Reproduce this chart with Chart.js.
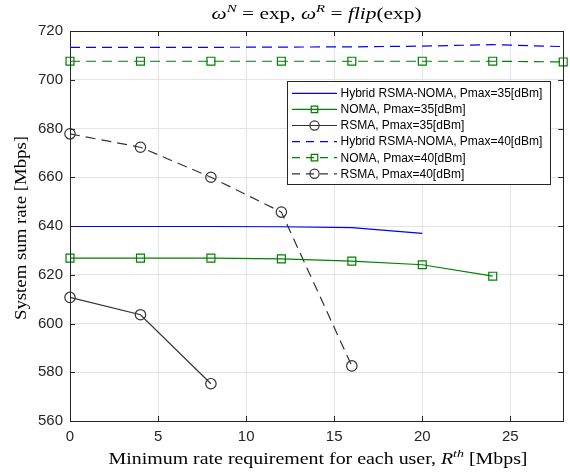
<!DOCTYPE html>
<html>
<head>
<meta charset="utf-8">
<script src="https://cdn.jsdelivr.net/npm/chart.js@4.4.0/dist/chart.umd.min.js"></script>
<style>body{margin:0;background:#fff}</style>
</head>
<body>
<canvas id="c" width="570" height="475"></canvas>
<script>
// x positions (minimum rate requirement, Mbps)
const xHybrid35 = [0, 4, 8, 12, 16, 20];
const xNoma35 = [0, 4, 8, 12, 16, 20, 24];
const xRsma35 = [0, 4, 8];
const xHybrid40 = [0, 4, 8, 12, 16, 20, 24, 28];
const xNoma40 = [0, 4, 8, 12, 16, 20, 24, 28];
const xRsma40 = [0, 4, 8, 12, 16];

// system sum rate (Mbps)
const hybrid35 = [639.8, 639.8, 639.8, 639.7, 639.3, 637.0];
const noma35 = [626.8, 626.8, 626.8, 626.5, 625.6, 624.1, 619.4];
const rsma35 = [610.7, 603.6, 575.3];
const hybrid40 = [713.3, 713.3, 713.3, 713.4, 713.5, 713.8, 714.4, 713.6];
const noma40 = [707.6, 707.6, 707.6, 707.6, 707.6, 707.6, 707.6, 707.3];
const rsma40 = [677.8, 672.3, 660.0, 645.7, 582.6];

const seriesNames = [
    'Hybrid RSMA-NOMA, Pmax=35[dBm]',
    'NOMA, Pmax=35[dBm]',
    'RSMA, Pmax=35[dBm]',
    'Hybrid RSMA-NOMA, Pmax=40[dBm]',
    'NOMA, Pmax=40[dBm]',
    'RSMA, Pmax=40[dBm]'
];
const xTicks = [0, 5, 10, 15, 20, 25];

const BLUE = '#0000ff';
const GREEN = '#008000';
const BLACK = '#333333';
const AXIS = '#262626';
const SERIF = '"Liberation Serif", "Times New Roman", serif';
const SANS = '"Liberation Sans", Arial, sans-serif';

function pts(xs, ys) {
    return xs.map((x, i) => ({x: x, y: ys[i]}));
}

function ds(label, xs, ys, color, marker, dashed) {
    return {
        label: label,
        data: pts(xs, ys),
        borderColor: color,
        backgroundColor: color,
        borderWidth: 1.2,
        borderDash: dashed ? [10, 6] : [],
        pointStyle: marker || 'circle',
        pointRadius: marker ? (marker === 'rect' ? 5.6 : 5.2) : 0,
        pointBorderColor: color,
        pointBackgroundColor: 'rgba(0,0,0,0)',
        pointBorderWidth: 1.2,
        tension: 0,
        clip: false
    };
}

const datasets = [
    ds(seriesNames[0], xHybrid35, hybrid35, BLUE, null, false),
    ds(seriesNames[1], xNoma35, noma35, GREEN, 'rect', false),
    ds(seriesNames[2], xRsma35, rsma35, BLACK, 'circle', false),
    ds(seriesNames[3], xHybrid40, hybrid40, BLUE, null, true),
    ds(seriesNames[4], xNoma40, noma40, GREEN, 'rect', true),
    ds(seriesNames[5], xRsma40, rsma40, BLACK, 'circle', true)
];

// text with italic / superscript pieces: [text, italic, sup]
function richWidth(ctx, parts, size) {
    let w = 0;
    parts.forEach(p => {
        const s = p[2] ? size * 0.7 : size;
        ctx.font = (p[1] ? 'italic ' : '') + s + 'px ' + SERIF;
        w += ctx.measureText(p[0]).width;
    });
    return w;
}
// the reference uses a wide LaTeX font, so stretch to its measured width
function drawRich(ctx, parts, cx, cy, size, angle, targetW) {
    ctx.save();
    ctx.translate(cx, cy);
    if (angle) ctx.rotate(angle);
    const w = richWidth(ctx, parts, size);
    if (targetW) ctx.scale(targetW / w, 1);
    ctx.fillStyle = '#000';
    ctx.textBaseline = 'middle';
    ctx.textAlign = 'left';
    let x = -w / 2;
    parts.forEach(p => {
        const s = p[2] ? size * 0.7 : size;
        ctx.font = (p[1] ? 'italic ' : '') + s + 'px ' + SERIF;
        ctx.fillText(p[0], x, p[2] ? -size * 0.38 : 0);
        x += ctx.measureText(p[0]).width;
    });
    ctx.restore();
}

const framePlugin = {
    id: 'frame',
    afterDatasetsDraw(chart) {
        const ctx = chart.ctx;
        const a = chart.chartArea;
        const xs = chart.scales.x, ys = chart.scales.y;
        ctx.save();
        ctx.strokeStyle = AXIS;
        ctx.lineWidth = 1;
        ctx.strokeRect(Math.round(a.left) + 0.5, Math.round(a.top) + 0.5,
            Math.round(a.right - a.left), Math.round(a.bottom - a.top));
        ctx.beginPath();
        xs.ticks.forEach(t => {
            const px = Math.round(xs.getPixelForValue(t.value)) + 0.5;
            ctx.moveTo(px, a.bottom); ctx.lineTo(px, a.bottom - 5);
            ctx.moveTo(px, a.top); ctx.lineTo(px, a.top + 5);
        });
        ys.ticks.forEach(t => {
            const py = Math.round(ys.getPixelForValue(t.value)) + 0.5;
            ctx.moveTo(a.left, py); ctx.lineTo(a.left + 5, py);
            ctx.moveTo(a.right, py); ctx.lineTo(a.right - 5, py);
        });
        ctx.stroke();

        // legend box inside the plot
        const lx = 287.5, ly = 81.5, lw = 263, lh = 103, rowH = 16.1;
        ctx.fillStyle = '#fff';
        ctx.fillRect(lx, ly, lw, lh);
        ctx.strokeStyle = AXIS;
        ctx.strokeRect(lx, ly, lw, lh);
        ctx.textBaseline = 'middle';
        chart.data.datasets.forEach((d, i) => {
            const y = 93.3 + i * rowH;
            ctx.save();
            ctx.strokeStyle = d.borderColor;
            ctx.lineWidth = d.borderWidth;
            ctx.setLineDash(d.borderDash.length ? [8, 6] : []);
            ctx.beginPath();
            ctx.moveTo(292, y); ctx.lineTo(337, y);
            ctx.stroke();
            ctx.setLineDash([]);
            if (d.pointRadius > 0) {
                ctx.fillStyle = 'rgba(255,255,255,0)';
                Chart.helpers.drawPoint(ctx, {
                    pointStyle: d.pointStyle,
                    radius: d.pointStyle === 'rect' ? 4.6 : 4.6,
                    borderWidth: 1.2
                }, 314.5, y);
            }
            ctx.restore();
            ctx.font = '12px ' + SANS;
            ctx.fillStyle = '#000';
            ctx.fillText(d.label, 340.5, y + 0.5);
        });

        // title and axis labels
        const cx = (a.left + a.right) / 2;
        drawRich(ctx, [['ω', true], ['N', true, true], [' = exp, ', false], ['ω', true],
            ['R', true, true], [' = ', false], ['flip', true], ['(exp)', false]], cx, 15, 16, 0, 210);
        drawRich(ctx, [['Minimum rate requirement for each user, ', false], ['R', true],
            ['th', true, true], [' [Mbps]', false]], 318, 460, 16, 0, 419);
        drawRich(ctx, [['System sum rate [Mbps]', false]], 22, 228, 16, -Math.PI / 2, 184);
        ctx.restore();
    }
};

new Chart(document.getElementById('c'), {
    type: 'line',
    data: {datasets: datasets},
    options: {
        responsive: false,
        animation: false,
        layout: {padding: {top: 31, right: 5, left: 0, bottom: 0}},
        plugins: {legend: {display: false}, tooltip: {enabled: false}},
        scales: {
            x: {
                type: 'linear',
                min: 0,
                max: 28,
                afterBuildTicks: s => { s.ticks = xTicks.map(v => ({value: v})); },
                afterFit: s => { s.height = 54; },
                grid: {color: '#e3e3e3', drawTicks: false},
                border: {display: false},
                ticks: {color: AXIS, font: {family: SANS, size: 15}, padding: 7, maxRotation: 0}
            },
            y: {
                min: 560,
                max: 720,
                afterFit: s => { s.width = 70; },
                grid: {color: '#e3e3e3', drawTicks: false},
                border: {display: false},
                ticks: {stepSize: 20, color: AXIS, font: {family: SANS, size: 15}, padding: 7}
            }
        }
    },
    plugins: [framePlugin]
});
</script>
</body>
</html>
